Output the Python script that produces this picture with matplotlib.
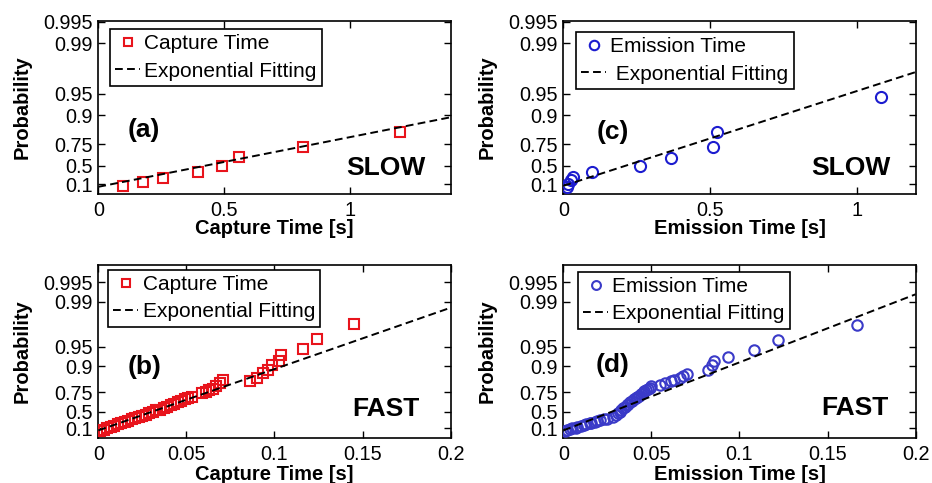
import numpy as np
import matplotlib
matplotlib.use('Agg')
import matplotlib.pyplot as plt

plt.rcParams['font.family'] = ['Liberation Sans', 'DejaVu Sans']

# ---------------- data ----------------
# (a) capture time, slow trap
cap_slow_t = [0.099, 0.176, 0.258, 0.398, 0.491, 0.560, 0.812, 1.200]
cap_slow_p = [0.040, 0.164, 0.264, 0.381, 0.494, 0.620, 0.724, 0.831]
cap_slow_fit_x = [0.0, 1.4]
cap_slow_fit_p = [0.02, 0.894]

# (c) emission time, slow trap
emi_slow_t = [0.012, 0.016, 0.025, 0.033, 0.099, 0.261, 0.366, 0.511, 0.523, 1.082]
emi_slow_p = [0.010, 0.100, 0.210, 0.290, 0.380, 0.494, 0.612, 0.724, 0.831, 0.945]
emi_slow_fit_x = [0.0, 1.2]
emi_slow_fit_p = [0.05, 0.975]

# (b) capture time, fast trap
cap_fast_t = [0.001, 0.003, 0.005, 0.007, 0.009, 0.011, 0.013, 0.015, 0.017, 0.019,
              0.021, 0.023, 0.025, 0.027, 0.029, 0.031, 0.033, 0.035, 0.037, 0.039,
              0.041, 0.043, 0.045, 0.047, 0.049, 0.051, 0.053, 0.059, 0.061, 0.063,
              0.065, 0.067, 0.069, 0.071,
              0.086, 0.0898, 0.0937, 0.0965, 0.0984, 0.1025, 0.1037, 0.116, 0.1243, 0.1453]
cap_fast_p = [0.020, 0.058, 0.095, 0.148, 0.173, 0.221, 0.244, 0.281, 0.302, 0.343,
              0.369, 0.405, 0.429, 0.440, 0.473, 0.503, 0.532, 0.537, 0.560, 0.585,
              0.605, 0.625, 0.643, 0.660, 0.677, 0.693, 0.705, 0.746, 0.753, 0.768,
              0.779, 0.798, 0.821, 0.841,
              0.832, 0.847, 0.873, 0.887, 0.905, 0.918, 0.934, 0.946, 0.962, 0.978]
cap_fast_fit_x = [0.0, 0.2]
cap_fast_fit_p = [0.03, 0.9876]

# (d) emission time, fast trap
emi_fast_t = [0.001, 0.002, 0.004, 0.005, 0.007, 0.008, 0.010, 0.012, 0.013, 0.015,
              0.016, 0.018, 0.019, 0.021, 0.023, 0.025, 0.028, 0.030, 0.031, 0.032,
              0.033, 0.034, 0.035, 0.036, 0.037, 0.038, 0.039, 0.040, 0.041, 0.042,
              0.043, 0.044, 0.045, 0.046, 0.047, 0.048, 0.049, 0.050, 0.055, 0.058,
              0.061, 0.063, 0.066, 0.068, 0.070,
              0.0823, 0.0842, 0.0857, 0.0933, 0.1084, 0.1217, 0.1669]
emi_fast_p = [0.010, 0.039, 0.068, 0.095, 0.122, 0.148, 0.173, 0.197, 0.221, 0.244,
              0.267, 0.281, 0.302, 0.323, 0.343, 0.362, 0.405, 0.440, 0.473, 0.503,
              0.532, 0.560, 0.585, 0.605, 0.625, 0.643, 0.660, 0.677, 0.693, 0.705,
              0.719, 0.733, 0.746, 0.758, 0.768, 0.779, 0.788, 0.798, 0.808, 0.821,
              0.831, 0.841, 0.850, 0.859, 0.871,
              0.887, 0.905, 0.918, 0.929, 0.944, 0.961, 0.977]
emi_fast_fit_x = [0.0, 0.2]
emi_fast_fit_p = [0.03, 0.9923]

prob_ticks = [0.1, 0.5, 0.75, 0.9, 0.95, 0.99, 0.995]
prob_labels = ['0.1', '0.5', '0.75', '0.9', '0.95', '0.99', '0.995']
slow_xticks = [0, 0.5, 1]
slow_xlabels = ['0', '0.5', '1']
fast_xticks = [0, 0.05, 0.1, 0.15, 0.2]
fast_xlabels = ['0', '0.05', '0.1', '0.15', '0.2']


# ---------------- exponential probability scale ----------------
def fwd(p):
    p = np.asarray(p, dtype=float)
    with np.errstate(divide='ignore', invalid='ignore'):
        return -np.log(np.clip(1.0 - p, 1e-12, None))


def inv(t):
    t = np.asarray(t, dtype=float)
    return 1.0 - np.exp(-t)


RED = '#e8141c'
BLUE_C = '#1c1ccf'
BLUE_D = '#3a3ac8'

fig = plt.figure(figsize=(9.32, 4.83), dpi=100)

W = 0.378
H = 0.359
pos = {
    'a': [0.1055, 0.598, W, H],
    'c': [0.6044, 0.598, W, H],
    'b': [0.1055, 0.0925, W, H],
    'd': [0.6044, 0.0925, W, H],
}

panels = [
    dict(key='a', x=cap_slow_t, p=cap_slow_p, fx=cap_slow_fit_x, fp=cap_slow_fit_p,
         marker='s', color=RED, name='Capture Time', fitname='Exponential Fitting',
         xlim=(0, 1.4), ylim=(inv(-0.215), inv(5.33)), xticks=slow_xticks,
         xlabels=slow_xlabels, xlabel='Capture Time [s]', tag='(a)', speed='SLOW',
         tagpos=(0.13, 0.37), speedpos=(0.816, 0.15), legpos=(0.033, 0.952),
         xlabel_y=-0.145, ms=7),
    dict(key='c', x=emi_slow_t, p=emi_slow_p, fx=emi_slow_fit_x, fp=emi_slow_fit_p,
         marker='o', color=BLUE_C, name='Emission Time', fitname=' Exponential Fitting',
         xlim=(0, 1.2), ylim=(inv(-0.215), inv(5.33)), xticks=slow_xticks,
         xlabels=slow_xlabels, xlabel='Emission Time [s]', tag='(c)', speed='SLOW',
         tagpos=(0.14, 0.36), speedpos=(0.816, 0.15), legpos=(0.036, 0.935),
         xlabel_y=-0.145, ms=8),
    dict(key='b', x=cap_fast_t, p=cap_fast_p, fx=cap_fast_fit_x, fp=cap_fast_fit_p,
         marker='s', color=RED, name='Capture Time', fitname='Exponential Fitting',
         xlim=(0, 0.2), ylim=(inv(-0.25), inv(5.91)), xticks=fast_xticks,
         xlabels=fast_xlabels, xlabel='Capture Time [s]', tag='(b)', speed='FAST',
         tagpos=(0.13, 0.41), speedpos=(0.816, 0.17), legpos=(0.028, 0.971),
         xlabel_y=-0.155, ms=6.5),
    dict(key='d', x=emi_fast_t, p=emi_fast_p, fx=emi_fast_fit_x, fp=emi_fast_fit_p,
         marker='o', color=BLUE_D, name='Emission Time', fitname='Exponential Fitting',
         xlim=(0, 0.2), ylim=(inv(-0.25), inv(5.91)), xticks=fast_xticks,
         xlabels=fast_xlabels, xlabel='Emission Time [s]', tag='(d)', speed='FAST',
         tagpos=(0.14, 0.42), speedpos=(0.827, 0.175), legpos=(0.042, 0.96),
         xlabel_y=-0.155, ms=7.5),
]

for pn in panels:
    ax = fig.add_axes(pos[pn['key']])
    ax.set_yscale('function', functions=(fwd, inv))
    ax.plot(pn['x'], pn['p'], linestyle='none', marker=pn['marker'], ms=pn['ms'],
            mfc='none', mec=pn['color'], mew=1.5, label=pn['name'], zorder=3)
    ax.plot(pn['fx'], pn['fp'], color='black', lw=1.4, dashes=(4, 2.2),
            label=pn['fitname'], zorder=4)
    ax.set_xlim(*pn['xlim'])
    ax.set_ylim(*pn['ylim'])
    ax.set_xticks(pn['xticks'])
    ax.set_xticklabels(pn['xlabels'])
    ax.set_yticks(prob_ticks)
    ax.set_yticklabels(prob_labels)
    ax.minorticks_off()
    ax.tick_params(direction='in', top=True, right=True, length=5, width=1,
                   labelsize=14.3, pad=4)
    ax.tick_params(axis='x', pad=5)
    for s in ax.spines.values():
        s.set_linewidth(1.2)
    ax.set_xlabel(pn['xlabel'], fontsize=14.5, fontweight='bold')
    ax.set_ylabel('Probability', fontsize=14.5, fontweight='bold')
    ax.xaxis.set_label_coords(0.5, pn['xlabel_y'])
    ax.yaxis.set_label_coords(-0.19, 0.5)
    ax.text(pn['tagpos'][0], pn['tagpos'][1], pn['tag'], transform=ax.transAxes,
            fontsize=19, fontweight='bold', ha='center', va='center')
    ax.text(pn['speedpos'][0], pn['speedpos'][1], pn['speed'], transform=ax.transAxes,
            fontsize=19, fontweight='bold', ha='center', va='center')
    leg = ax.legend(loc='upper left', bbox_to_anchor=pn['legpos'], fontsize=15,
                    frameon=True, fancybox=False, framealpha=1, edgecolor='black',
                    borderaxespad=0, borderpad=0.25, handlelength=1.2,
                    handletextpad=0.2, labelspacing=0.4, markerscale=0.85)
    leg.get_frame().set_linewidth(1.2)

fig.savefig('out.png', dpi=100)
